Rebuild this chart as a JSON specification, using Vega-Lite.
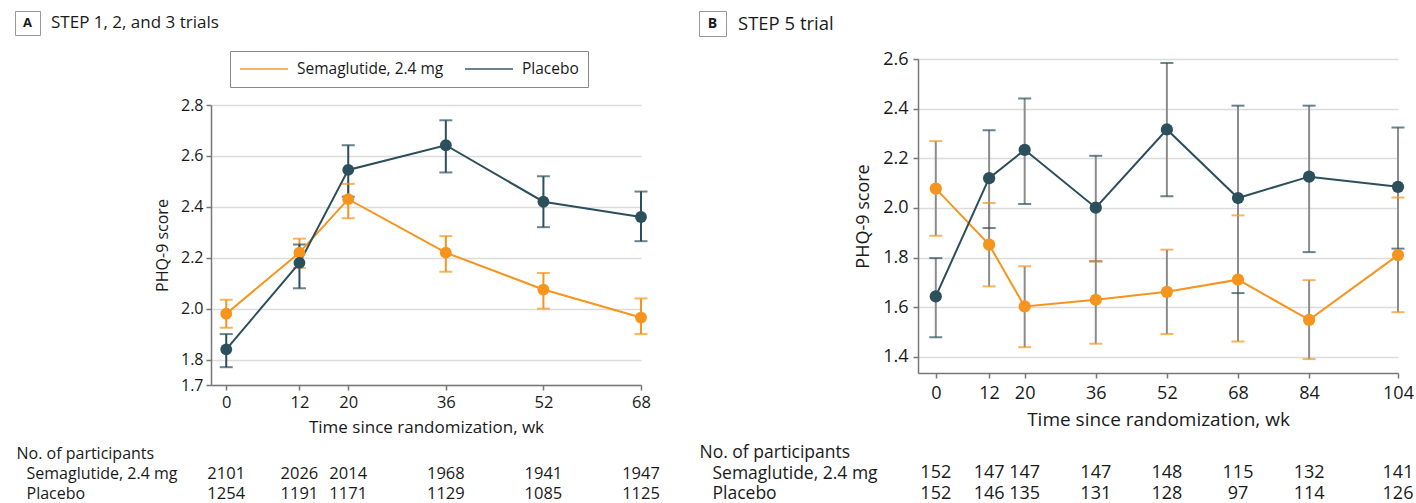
{
  "$schema": "https://vega.github.io/schema/vega-lite/v6.json",
  "padding": {"left": 14, "top": 10, "right": 0, "bottom": 0},
  "background": "white",
  "config": {
    "view": {"stroke": null},
    "font": "Open Sans",
    "axis": {"labelFont": "Open Sans", "titleFont": "Open Sans", "labelColor": "#1a1a1a", "titleColor": "#1a1a1a", "titleFontWeight": "normal", "domainColor": "#777", "tickColor": "#777", "gridColor": "#dcdcdc"},
    "title": {"font": "Open Sans", "color": "#1a1a1a", "fontWeight": "normal"},
    "text": {"font": "Open Sans", "color": "#1a1a1a"},
    "legend": {"orient": "none", "legendX": 215, "legendY": 40, "direction": "horizontal", "title": null, "strokeColor": "#888", "padding": 9, "symbolType": "stroke", "symbolSize": 2304, "symbolStrokeWidth": 2, "clipHeight": 18, "labelFontSize": 15.5, "labelOffset": 8, "columnPadding": 20, "labelColor": "#1a1a1a", "labelFont": "Open Sans", "labelLimit": 300}
  },
  "datasets": {
    "a": [
      {"week": 0, "group": "Semaglutide, 2.4 mg", "mean": 1.98, "lo": 1.925, "hi": 2.035, "n": 2101},
      {"week": 12, "group": "Semaglutide, 2.4 mg", "mean": 2.22, "lo": 2.16, "hi": 2.275, "n": 2026},
      {"week": 20, "group": "Semaglutide, 2.4 mg", "mean": 2.43, "lo": 2.355, "hi": 2.49, "n": 2014},
      {"week": 36, "group": "Semaglutide, 2.4 mg", "mean": 2.22, "lo": 2.145, "hi": 2.285, "n": 1968},
      {"week": 52, "group": "Semaglutide, 2.4 mg", "mean": 2.075, "lo": 2.0, "hi": 2.14, "n": 1941},
      {"week": 68, "group": "Semaglutide, 2.4 mg", "mean": 1.965, "lo": 1.9, "hi": 2.04, "n": 1947},
      {"week": 0, "group": "Placebo", "mean": 1.84, "lo": 1.77, "hi": 1.9, "n": 1254},
      {"week": 12, "group": "Placebo", "mean": 2.18, "lo": 2.08, "hi": 2.252, "n": 1191},
      {"week": 20, "group": "Placebo", "mean": 2.545, "lo": 2.44, "hi": 2.642, "n": 1171},
      {"week": 36, "group": "Placebo", "mean": 2.642, "lo": 2.535, "hi": 2.74, "n": 1129},
      {"week": 52, "group": "Placebo", "mean": 2.42, "lo": 2.32, "hi": 2.52, "n": 1085},
      {"week": 68, "group": "Placebo", "mean": 2.36, "lo": 2.265, "hi": 2.46, "n": 1125}
    ],
    "b": [
      {"week": 0, "group": "Semaglutide, 2.4 mg", "mean": 2.078, "lo": 1.888, "hi": 2.269, "n": 152},
      {"week": 12, "group": "Semaglutide, 2.4 mg", "mean": 1.852, "lo": 1.684, "hi": 2.02, "n": 147},
      {"week": 20, "group": "Semaglutide, 2.4 mg", "mean": 1.603, "lo": 1.439, "hi": 1.765, "n": 147},
      {"week": 36, "group": "Semaglutide, 2.4 mg", "mean": 1.63, "lo": 1.453, "hi": 1.785, "n": 147},
      {"week": 52, "group": "Semaglutide, 2.4 mg", "mean": 1.662, "lo": 1.492, "hi": 1.832, "n": 148},
      {"week": 68, "group": "Semaglutide, 2.4 mg", "mean": 1.711, "lo": 1.462, "hi": 1.97, "n": 115},
      {"week": 84, "group": "Semaglutide, 2.4 mg", "mean": 1.549, "lo": 1.391, "hi": 1.709, "n": 132},
      {"week": 104, "group": "Semaglutide, 2.4 mg", "mean": 1.81, "lo": 1.58, "hi": 2.042, "n": 141},
      {"week": 0, "group": "Placebo", "mean": 1.644, "lo": 1.479, "hi": 1.798, "n": 152},
      {"week": 12, "group": "Placebo", "mean": 2.12, "lo": 1.919, "hi": 2.313, "n": 146},
      {"week": 20, "group": "Placebo", "mean": 2.234, "lo": 2.016, "hi": 2.441, "n": 135},
      {"week": 36, "group": "Placebo", "mean": 2.001, "lo": 1.785, "hi": 2.21, "n": 131},
      {"week": 52, "group": "Placebo", "mean": 2.316, "lo": 2.047, "hi": 2.584, "n": 128},
      {"week": 68, "group": "Placebo", "mean": 2.04, "lo": 1.657, "hi": 2.412, "n": 97},
      {"week": 84, "group": "Placebo", "mean": 2.126, "lo": 1.822, "hi": 2.412, "n": 114},
      {"week": 104, "group": "Placebo", "mean": 2.085, "lo": 1.836, "hi": 2.324, "n": 126}
    ]
  },
  "spacing": 38,
  "hconcat": [
    {
      "bounds": "flush",
      "spacing": 171,
      "hconcat": [
        {
          "width": 25, "height": 24,
          "view": {"stroke": "#999", "strokeWidth": 1},
          "data": {"values": [{"t": "A"}]},
          "mark": {"type": "text", "fontWeight": "bold", "fontSize": 13, "color": "#1a1a1a"},
          "encoding": {"text": {"field": "t"}},
          "title": {"text": "STEP 1, 2, and 3 trials", "orient": "top", "anchor": "start", "frame": "group", "offset": -29, "dx": 36, "align": "left", "baseline": "middle", "fontSize": 17}
        },
        {
          "bounds": "flush",
          "spacing": 0,
          "vconcat": [
            {"width": 10, "height": 94, "data": {"values": [{}]}, "mark": "text", "encoding": {}},
            {
              "bounds": "flush",
              "spacing": 58,
              "vconcat": [
                {
                  "width": 430, "height": 280,
                  "data": {"name": "a"},
                  "encoding": {
                    "x": {"field": "week", "type": "quantitative", "scale": {"domain": [-2.5, 68], "nice": false, "zero": false},
                      "axis": {"values": [0, 12, 20, 36, 52, 68], "title": "Time since randomization, wk", "grid": false, "labelFlush": false, "labelOverlap": false, "labelFontSize": 16.5, "titleFontSize": 17, "tickSize": 5, "labelPadding": 4, "titlePadding": 9, "domainWidth": 1.5, "tickWidth": 1.5}},
                    "color": {"field": "group", "type": "nominal", "scale": {"domain": ["Semaglutide, 2.4 mg", "Placebo"], "range": ["#f7941d", "#2c4f5c"]}}
                  },
                  "layer": [
                    {"mark": {"type": "rule", "strokeWidth": 2},
                     "encoding": {
                       "y": {"field": "lo", "type": "quantitative", "title": "PHQ-9 score", "scale": {"domain": [1.7, 2.8], "nice": false, "zero": false},
                         "axis": {"values": [1.7, 1.8, 2.0, 2.2, 2.4, 2.6, 2.8], "format": ".1f", "grid": true, "gridWidth": 1.5, "labelFontSize": 16, "titleFontSize": 16, "tickSize": 5, "labelPadding": 3, "titlePadding": 10, "domainWidth": 1.5, "tickWidth": 1.5}},
                       "y2": {"field": "hi"}
                     }},
                    {"mark": {"type": "tick", "orient": "horizontal", "size": 13, "thickness": 2},
                     "encoding": {"y": {"field": "lo", "type": "quantitative", "title": "PHQ-9 score"}}},
                    {"mark": {"type": "tick", "orient": "horizontal", "size": 13, "thickness": 2},
                     "encoding": {"y": {"field": "hi", "type": "quantitative", "title": "PHQ-9 score"}}},
                    {"mark": {"type": "line", "strokeWidth": 2},
                     "encoding": {"y": {"field": "mean", "type": "quantitative", "title": "PHQ-9 score"}}},
                    {"mark": {"type": "point", "filled": true, "size": 140, "opacity": 1},
                     "encoding": {"y": {"field": "mean", "type": "quantitative", "title": "PHQ-9 score"}}}
                  ]
                },
                {
                  "width": 430, "height": 61,
                  "data": {"name": "a"},
                  "mark": {"type": "text", "fontSize": 16.5, "color": "#1a1a1a"},
                  "encoding": {
                    "x": {"field": "week", "type": "quantitative", "scale": {"domain": [-2.5, 68], "nice": false, "zero": false}, "axis": null},
                    "y": {"field": "group", "type": "nominal", "scale": {"domain": ["No. of participants", "Semaglutide, 2.4 mg", "Placebo"]},
                      "axis": {"title": null, "domain": false, "ticks": false, "tickSize": 0, "labelAlign": "left", "labelPadding": {"condition": {"test": "datum.value == 'No. of participants'", "value": 195}, "value": 185}, "labelFontSize": 16, "labelLimit": 300}},
                    "text": {"field": "n", "type": "quantitative", "format": "d"}
                  }
                }
              ]
            }
          ]
        }
      ]
    },
    {
      "bounds": "flush",
      "spacing": 192,
      "hconcat": [
        {
          "width": 27, "height": 25,
          "view": {"stroke": "#999", "strokeWidth": 1},
          "data": {"values": [{"t": "B"}]},
          "mark": {"type": "text", "fontWeight": "bold", "fontSize": 14, "color": "#1a1a1a"},
          "encoding": {"text": {"field": "t"}},
          "title": {"text": "STEP 5 trial", "orient": "top", "anchor": "start", "frame": "group", "offset": -31, "dx": 39, "align": "left", "baseline": "middle", "fontSize": 18.5}
        },
        {
          "bounds": "flush",
          "spacing": 0,
          "vconcat": [
            {"width": 10, "height": 48, "data": {"values": [{}]}, "mark": "text", "encoding": {}},
            {
              "bounds": "flush",
              "spacing": 69,
              "vconcat": [
                {
                  "width": 480, "height": 314,
                  "data": {"name": "b"},
                  "encoding": {
                    "x": {"field": "week", "type": "quantitative", "scale": {"domain": [-4, 104], "nice": false, "zero": false},
                      "axis": {"values": [0, 12, 20, 36, 52, 68, 84, 104], "title": "Time since randomization, wk", "grid": false, "labelFlush": false, "labelOverlap": false, "labelFontSize": 18, "titleFontSize": 19, "tickSize": 5, "labelPadding": 6, "titlePadding": 8, "domainWidth": 1.5, "tickWidth": 1.5}}
                  },
                  "layer": [
                    {"mark": {"type": "rule", "strokeWidth": 2, "color": "#8c8c8c"},
                     "encoding": {
                       "y": {"field": "lo", "type": "quantitative", "title": "PHQ-9 score", "scale": {"domain": [1.335, 2.6], "nice": false, "zero": false},
                         "axis": {"values": [1.4, 1.6, 1.8, 2.0, 2.2, 2.4, 2.6], "format": ".1f", "grid": true, "gridWidth": 1.5, "labelFontSize": 18, "titleFontSize": 18, "tickSize": 5, "labelPadding": 5, "titlePadding": 10, "domainWidth": 1.5, "tickWidth": 1.5}},
                       "y2": {"field": "hi"}
                     }},
                    {"mark": {"type": "tick", "orient": "horizontal", "size": 13, "thickness": 2},
                     "encoding": {"y": {"field": "lo", "type": "quantitative", "title": "PHQ-9 score"}, "color": {"field": "group", "type": "nominal"}}},
                    {"mark": {"type": "tick", "orient": "horizontal", "size": 13, "thickness": 2},
                     "encoding": {"y": {"field": "hi", "type": "quantitative", "title": "PHQ-9 score"}, "color": {"field": "group", "type": "nominal"}}},
                    {"mark": {"type": "line", "strokeWidth": 2},
                     "encoding": {"y": {"field": "mean", "type": "quantitative", "title": "PHQ-9 score"}, "color": {"field": "group", "type": "nominal"}}},
                    {"mark": {"type": "point", "filled": true, "size": 150, "opacity": 1},
                     "encoding": {"y": {"field": "mean", "type": "quantitative", "title": "PHQ-9 score"}, "color": {"field": "group", "type": "nominal"}}}
                  ]
                },
                {
                  "width": 480, "height": 62,
                  "data": {"name": "b"},
                  "mark": {"type": "text", "fontSize": 18, "color": "#1a1a1a"},
                  "encoding": {
                    "x": {"field": "week", "type": "quantitative", "scale": {"domain": [-4, 104], "nice": false, "zero": false}, "axis": null},
                    "y": {"field": "group", "type": "nominal", "scale": {"domain": ["No. of participants", "Semaglutide, 2.4 mg", "Placebo"]},
                      "axis": {"title": null, "domain": false, "ticks": false, "tickSize": 0, "labelAlign": "left", "labelPadding": {"condition": {"test": "datum.value == 'No. of participants'", "value": 219}, "value": 206}, "labelFontSize": 17.5, "labelLimit": 300}},
                    "text": {"field": "n", "type": "quantitative", "format": "d"}
                  }
                }
              ]
            }
          ]
        }
      ]
    }
  ]
}
